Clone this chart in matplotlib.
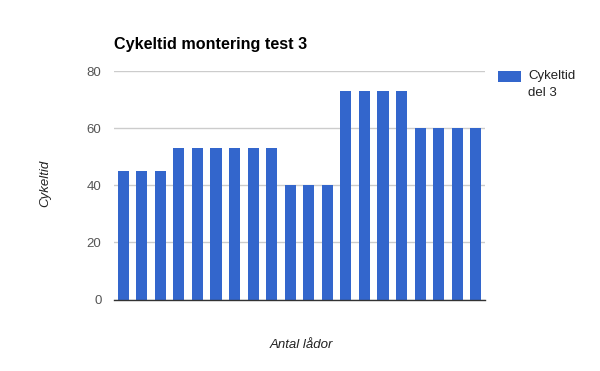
import matplotlib
matplotlib.use("Agg")
import matplotlib.pyplot as plt
import numpy as np
from matplotlib.patches import Rectangle

plt.rcParams['font.family'] = ['Liberation Sans', 'DejaVu Sans']

values = [45, 45, 45, 53, 53, 53, 53, 53, 53, 40, 40, 40, 73, 73, 73, 73, 60, 60, 60, 60]
yticks = [0, 20, 40, 60, 80]
title = "Cykeltid montering test 3"
series_name = "Cykeltid\ndel 3"
xlabel = "Antal lådor"
ylabel = "Cykeltid"

W, H = 600, 371
fig = plt.figure(figsize=(W / 100, H / 100), dpi=100)
left, right, top, bottom = 114, 485, 71, 299.5
ax = fig.add_axes([left / W, 1 - bottom / H, (right - left) / W, (bottom - top) / H])

x = np.arange(len(values))
ax.bar(x, values, width=0.6, color='#3366cc', zorder=3, label=series_name)
ax.set_xlim(-0.5, len(values) - 0.5)
ax.set_ylim(0, 80)
ax.set_yticks(yticks)
ax.set_xticks([])
ax.grid(axis='y', color='#cccccc', linewidth=1, zorder=0)
for s in ['top', 'right', 'left']:
    ax.spines[s].set_visible(False)
ax.spines['bottom'].set_color('#333333')
ax.spines['bottom'].set_linewidth(1)
ax.spines['bottom'].set_zorder(4)
ax.tick_params(axis='y', length=0, labelsize=9.5, labelcolor='#555555', pad=9)

fig.text(114 / W, 1 - 45 / H, title, fontsize=11.6, fontweight='bold', ha='left', va='center', color='#000000')
fig.text(301 / W, 1 - 345 / H, xlabel, fontsize=9.5, style='italic', ha='center', va='center', color='#222222')
fig.text(45 / W, 1 - 183 / H, ylabel, fontsize=9.5, style='italic', rotation=90, ha='center', va='center', color='#222222')

# legend
fig.patches.append(Rectangle((498 / W, 1 - 82 / H), 23 / W, 11 / H, transform=fig.transFigure,
                             facecolor='#3366cc', edgecolor='none'))
fig.text(528 / W, 1 - 70 / H, series_name, fontsize=9.5, ha='left', va='top', color='#222222', linespacing=1.5)

fig.savefig("out.png", dpi=100)
